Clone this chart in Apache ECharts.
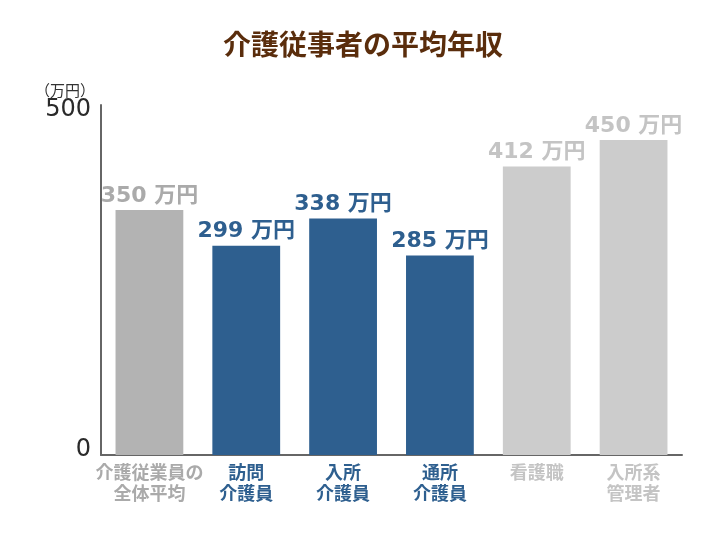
<!DOCTYPE html>
<html lang="ja">
<head>
<meta charset="UTF-8">
<title>介護従事者の平均年収</title>
<script src="https://cdn.jsdelivr.net/npm/echarts@6/dist/echarts.min.js"></script>
<style>
  html, body { margin: 0; padding: 0; background: #fff; }
  #chart { width: 726px; height: 545px; }
</style>
</head>
<body>
<div id="chart"></div>
<script>
  // data
  const categories = ['介護従業員の\n全体平均', '訪問\n介護員', '入所\n介護員', '通所\n介護員', '看護職', '入所系\n管理者'];
  const salaries = [350, 299, 338, 285, 412, 450];
  const barColors = ['#b3b3b3', '#2e5f8f', '#2e5f8f', '#2e5f8f', '#cccccc', '#cccccc'];
  const textColors = ['#aaaaaa', '#2e5f8f', '#2e5f8f', '#2e5f8f', '#c4c4c4', '#c4c4c4'];

  const cjk = '"Noto Sans CJK JP", "Noto Sans", sans-serif';
  const wide = '"DejaVu Sans", "Noto Sans CJK JP", sans-serif';
  const chart = echarts.init(document.getElementById('chart'));

  const tickText = { color: '#2a2a2a', fontSize: 24, fontFamily: wide };

  chart.setOption({
    animation: false,
    title: {
      text: '介護従事者の平均年収',
      left: 'center',
      top: 25,
      textStyle: { color: '#5a2d0c', fontSize: 28, fontWeight: 'bold', fontFamily: cjk }
    },
    grid: { left: 101, right: 44, top: 105, bottom: 90 },
    xAxis: {
      type: 'category',
      data: categories,
      axisLine: { lineStyle: { color: '#666', width: 2 } },
      axisTick: { show: false },
      axisLabel: {
        interval: 0,
        margin: 7,
        fontSize: 18,
        fontWeight: 'bold',
        lineHeight: 21,
        fontFamily: cjk,
        color: (v, i) => textColors[i]
      }
    },
    yAxis: {
      type: 'value',
      min: 0,
      max: 500,
      interval: 500,
      name: '（万円）',
      nameLocation: 'end',
      nameGap: 4,
      nameTextStyle: { color: '#333', fontSize: 15, fontFamily: '"Noto Sans CJK JP", sans-serif', align: 'right', padding: [0, 6, 0, 0] },
      axisLine: { show: true, lineStyle: { color: '#666', width: 2 } },
      axisTick: { show: false },
      splitLine: { show: false },
      axisLabel: {
        margin: 10,
        formatter: v => v === 0 ? '{lo|0}' : '{hi|' + v + '}',
        rich: {
          hi: Object.assign({ padding: [10, 0, 0, 0] }, tickText),
          lo: Object.assign({ padding: [0, 0, 10, 0] }, tickText)
        }
      }
    },
    series: [{
      type: 'bar',
      barWidth: '70%',
      data: salaries.map((v, i) => ({
        value: v,
        itemStyle: { color: barColors[i] },
        label: { color: textColors[i] }
      })),
      label: {
        show: true,
        position: 'top',
        distance: 3,
        fontSize: 22,
        fontWeight: 'bold',
        fontFamily: wide,
        formatter: p => p.value + ' 万円'
      }
    }]
  });
</script>
</body>
</html>
